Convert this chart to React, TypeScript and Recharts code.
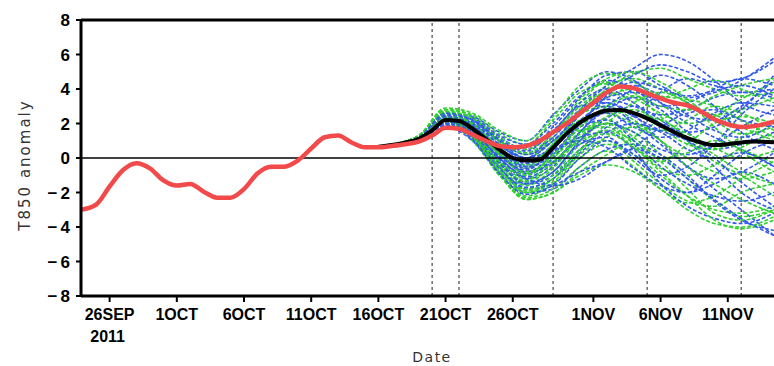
import React from 'react';
import { LineChart, Line, XAxis, YAxis, ReferenceLine } from 'recharts';

// Day index relative to 26 Sep 2011
const OBS_DAYS = [-2.13, -1, 0, 1, 2, 3, 4, 5, 6, 7, 8, 9, 10, 11, 12, 13, 14, 15, 16, 17, 18, 19, 20, 21, 22, 23, 24, 25, 26, 27, 28, 29, 30, 31, 32, 33, 34, 35, 36, 37, 38, 39, 40, 41, 42, 43, 44, 45, 46, 47, 48, 49.44];
const OBS_VALUES = [-3.0, -2.7, -1.65, -0.7, -0.3, -0.6, -1.3, -1.6, -1.5, -1.95, -2.3, -2.3, -1.8, -0.9, -0.5, -0.5, -0.15, 0.55, 1.2, 1.3, 0.9, 0.62, 0.62, 0.7, 0.8, 0.95, 1.3, 1.75, 1.7, 1.35, 1.0, 0.7, 0.63, 0.7, 1.0, 1.5, 2.0, 2.6, 3.2, 3.8, 4.15, 4.05, 3.75, 3.45, 3.2, 3.05, 2.7, 2.25, 1.95, 1.8, 1.85, 2.1];

const MEAN_DAYS = [20, 21, 22, 23, 24, 25, 26, 27, 28, 29, 30, 31, 32, 33, 34, 35, 36, 37, 38, 39, 40, 41, 42, 43, 44, 45, 46, 47, 48, 49.44];
const MEAN_VALUES = [0.65, 0.75, 0.9, 1.1, 1.6, 2.2, 2.15, 1.7, 1.1, 0.5, 0.0, -0.15, -0.1, 0.6, 1.4, 2.05, 2.5, 2.75, 2.78, 2.6, 2.3, 1.9, 1.5, 1.15, 0.9, 0.75, 0.8, 0.9, 0.95, 0.92];

const MEMBER_DAYS = [20.5, 23, 25, 27, 29, 31, 33, 35, 37, 39, 41, 43, 45, 47, 49.44];

const BLUE_MEMBERS = [
  [0.7, 1.2, 2.5, 2.2, 1.2, 0.5, 1.8, 3.5, 4.8, 5.0, 4.2, 3.5, 3.8, 4.5, 5.8],
  [0.7, 1.1, 2.2, 1.8, 0.3, -0.8, 0.2, 2.0, 3.2, 2.5, 1.0, -0.5, -1.8, -3.0, -4.5],
  [0.7, 1.0, 2.0, 1.5, 0.0, -1.2, -0.5, 1.5, 2.8, 3.5, 2.8, 1.5, 0.5, 0.8, 1.5],
  [0.7, 1.2, 2.6, 2.4, 1.5, 1.0, 2.5, 4.0, 5.0, 4.5, 3.2, 2.0, 1.2, 0.5, -0.5],
  [0.7, 1.0, 1.8, 1.0, -0.8, -1.5, -1.0, 0.5, 1.8, 2.5, 3.8, 4.6, 4.2, 3.8, 4.0],
  [0.7, 1.1, 2.3, 2.0, 0.8, -0.2, 0.8, 2.8, 4.2, 5.2, 6.0, 5.6, 4.5, 3.2, 2.5],
  [0.7, 1.0, 2.0, 1.3, -0.5, -2.0, -1.8, -0.5, 0.5, 0.8, 0.2, -1.0, -2.5, -3.6, -4.2],
  [0.7, 1.2, 2.4, 2.0, 1.0, 0.3, 1.2, 2.8, 3.4, 3.0, 2.5, 2.8, 3.5, 3.8, 3.5],
  [0.7, 1.1, 2.1, 1.6, 0.2, -0.9, -0.2, 1.2, 2.0, 1.5, 0.5, 0.2, 0.8, 1.8, 2.8],
  [0.7, 1.0, 1.9, 1.2, -0.5, -1.8, -1.5, 0.0, 1.0, 0.2, -1.2, -2.0, -1.5, -0.8, -1.5],
  [0.7, 1.2, 2.5, 2.3, 1.3, 0.8, 2.0, 3.6, 4.5, 4.0, 3.0, 3.2, 4.0, 4.6, 4.2],
  [0.7, 1.1, 2.2, 1.7, 0.5, -0.4, 0.5, 2.2, 3.0, 2.0, 0.8, -0.5, -1.2, -0.8, 0.3],
  [0.7, 1.0, 2.0, 1.4, -0.2, -1.4, -0.8, 1.0, 2.3, 3.0, 2.2, 1.0, -0.5, -2.0, -3.0],
  [0.7, 1.2, 2.3, 1.9, 0.6, -0.3, 0.6, 2.5, 3.8, 4.2, 3.6, 2.5, 1.6, 1.2, 2.0],
  [0.7, 1.1, 2.1, 1.5, 0.0, -1.0, 0.0, 1.8, 2.6, 1.8, 1.2, 1.6, 2.6, 3.2, 3.0],
  [0.7, 1.1, 2.4, 2.1, 1.0, 0.0, 0.5, 1.2, 1.5, 0.5, -1.5, -2.8, -3.5, -3.8, -3.2],
  [0.7, 1.2, 2.2, 1.8, 0.7, 0.0, 1.5, 3.2, 4.0, 3.2, 2.0, 1.5, 1.8, 2.8, 4.8],
  [0.7, 1.0, 2.0, 1.5, -0.1, -1.1, -0.3, 1.5, 3.0, 4.0, 4.8, 4.2, 3.0, 1.5, 0.5],
  [0.7, 1.1, 2.3, 1.9, 0.6, -0.5, 0.2, 1.8, 2.2, 1.0, -0.5, -1.5, -2.2, -2.5, -2.0],
  [0.7, 1.2, 2.6, 2.2, 1.0, 0.2, 1.0, 2.5, 3.5, 3.8, 3.2, 2.4, 2.2, 3.0, 4.5],
  [0.7, 1.0, 1.9, 1.2, -0.6, -1.7, -1.2, 0.3, 1.5, 2.0, 1.5, 0.5, 0.0, 0.3, -0.5],
  [0.7, 1.1, 2.2, 1.7, 0.4, -0.6, 0.3, 2.0, 3.6, 4.4, 4.0, 3.6, 3.9, 4.2, 3.6],
  [0.7, 1.1, 2.2, 1.6, 0.0, -1.2, -1.6, -1.2, -0.2, 0.5, 0.0, -1.2, -2.4, -3.5, -4.5],
  [0.7, 1.0, 2.0, 1.4, -0.3, -1.5, -0.8, 0.8, 1.2, 0.0, -1.0, -0.5, 0.8, 2.5, 4.0],
  [0.7, 1.2, 2.4, 2.0, 0.8, 0.0, 1.0, 2.6, 3.8, 4.8, 5.4, 5.0, 4.4, 4.6, 5.6],
  [0.7, 1.1, 2.1, 1.5, 0.1, -0.7, 0.4, 1.0, 0.6, -0.6, -1.6, -2.0, -1.0, 0.2, 1.0],
  [0.7, 1.2, 2.5, 2.2, 1.1, 0.4, 1.6, 3.0, 3.2, 2.4, 1.6, 1.0, 0.0, -1.4, -2.8],
  [0.7, 1.0, 1.9, 1.1, -0.9, -2.1, -1.6, -0.8, -0.2, 0.6, 1.8, 2.6, 2.8, 2.2, 1.8],
];

const GREEN_MEMBERS = [
  [0.7, 1.3, 2.8, 2.4, 1.2, 0.5, 1.5, 3.0, 4.2, 4.6, 4.0, 3.2, 2.5, 2.8, 3.5],
  [0.7, 1.2, 2.3, 1.4, -0.8, -2.2, -1.5, 0.0, 0.8, 0.2, -1.0, -2.2, -3.0, -3.2, -2.8],
  [0.7, 1.1, 2.0, 1.0, -1.0, -2.4, -2.0, -0.8, 0.2, 1.2, 2.2, 2.8, 2.5, 1.8, 1.0],
  [0.7, 1.3, 2.7, 2.3, 1.0, 0.2, 1.2, 3.2, 4.4, 3.8, 2.4, 1.2, 0.2, -0.8, -1.5],
  [0.7, 1.2, 2.4, 1.6, -0.3, -1.5, -0.8, 1.0, 2.0, 1.5, 0.2, -1.2, -2.5, -3.4, -3.0],
  [0.7, 1.1, 2.2, 1.5, -0.2, -1.2, 0.0, 2.0, 3.5, 4.0, 3.5, 4.0, 4.5, 4.0, 3.2],
  [0.7, 1.3, 2.6, 2.0, 0.5, -0.5, 0.8, 2.5, 3.0, 2.2, 1.0, 0.0, -0.8, -1.2, -0.8],
  [0.7, 1.2, 2.3, 1.2, -1.0, -2.0, -1.2, 0.5, 1.0, -0.2, -1.5, -2.5, -2.8, -2.0, -1.5],
  [0.7, 1.1, 2.1, 1.6, 0.2, -0.6, 0.6, 2.6, 4.0, 4.9, 5.2, 4.6, 4.0, 3.6, 3.8],
  [0.7, 1.3, 2.8, 2.5, 1.4, 0.8, 2.2, 3.8, 4.3, 3.5, 2.6, 2.0, 2.4, 3.4, 4.4],
  [0.7, 1.2, 2.2, 1.3, -0.6, -1.8, -1.0, 0.8, 1.6, 1.0, 0.0, 0.3, 1.0, 0.5, -0.3],
  [0.7, 1.1, 2.0, 1.1, -0.9, -2.3, -1.8, -0.5, 0.4, -0.5, -1.8, -2.6, -2.2, -1.2, -0.2],
  [0.7, 1.2, 2.5, 1.9, 0.4, -0.4, 0.8, 2.8, 3.8, 3.2, 1.8, 0.8, 0.5, 1.2, 2.2],
  [0.7, 1.3, 2.6, 2.2, 0.9, 0.0, 1.0, 2.2, 2.6, 2.0, 1.6, 2.2, 3.0, 2.6, 1.6],
  [0.7, 1.1, 2.2, 1.4, -0.5, -1.6, -0.6, 1.2, 2.4, 2.8, 2.0, 1.0, -0.2, -1.0, -2.2],
  [0.7, 1.2, 2.4, 1.8, 0.3, -0.8, 0.0, 1.5, 2.2, 1.2, -0.2, -1.8, -3.2, -3.6, -3.0],
  [0.7, 1.3, 2.9, 2.6, 1.6, 1.0, 2.4, 4.2, 4.9, 4.4, 3.6, 3.4, 3.0, 2.2, 1.2],
  [0.7, 1.1, 2.1, 1.2, -0.8, -2.0, -1.4, 0.2, 1.2, 1.8, 1.0, -0.5, -1.5, -2.4, -3.2],
  [0.7, 1.2, 2.3, 1.7, 0.2, -0.9, 0.2, 1.8, 3.0, 3.6, 3.0, 2.8, 3.6, 4.2, 4.6],
  [0.7, 1.2, 2.4, 1.5, -0.4, -1.4, -0.4, 1.4, 2.0, 0.8, -0.6, -1.0, -0.4, 0.6, 1.4],
  [0.7, 1.2, 2.3, 1.3, -0.9, -2.4, -2.0, -1.0, -0.4, -0.8, -1.8, -3.0, -3.8, -4.0, -3.4],
  [0.7, 1.1, 2.1, 1.4, -0.4, -1.3, -0.2, 1.0, 1.4, 0.6, -0.8, -2.2, -3.6, -4.1, -3.6],
  [0.7, 1.3, 2.7, 2.3, 1.0, 0.3, 1.4, 3.4, 4.6, 5.0, 4.4, 3.4, 2.2, 1.4, 1.8],
  [0.7, 1.2, 2.4, 1.6, -0.2, -1.0, 0.2, 1.6, 1.8, 0.6, -0.2, 0.8, 2.0, 2.4, 2.0],
  [0.7, 1.1, 2.2, 1.2, -0.7, -1.9, -1.2, 0.4, 2.0, 3.2, 3.8, 3.2, 1.8, 0.4, -0.8],
  [0.7, 1.2, 2.5, 2.0, 0.6, -0.2, 0.6, 2.0, 2.8, 2.6, 2.2, 1.4, 0.6, 0.0, 0.4],
];

const X_TICKS = [0, 5, 10, 15, 20, 25, 30, 36, 41, 46];
const X_TICK_LABELS = ['26SEP', '1OCT', '6OCT', '11OCT', '16OCT', '21OCT', '26OCT', '1NOV', '6NOV', '11NOV'];
const X_SUBLABEL = '2011';
const Y_TICKS = [-8, -6, -4, -2, 0, 2, 4, 6, 8];
const VERTICAL_MARKS = [24, 26, 33, 40, 47];

const toPoints = (days: number[], vals: number[]) => days.map((d, i) => ({ day: d, v: vals[i] }));

const obsData = toPoints(OBS_DAYS, OBS_VALUES);
const meanData = toPoints(MEAN_DAYS, MEAN_VALUES);
const blueData = BLUE_MEMBERS.map((m) => toPoints(MEMBER_DAYS, m));
const greenData = GREEN_MEMBERS.map((m) => toPoints(MEMBER_DAYS, m));

const TICK_FONT = "'Liberation Sans', Arial, sans-serif";

const XTick = (props: any) => {
  const { x, y, payload } = props;
  const idx = X_TICKS.indexOf(payload.value);
  return (
    <g>
      <text x={x} y={y + 16} textAnchor="middle" fontFamily={TICK_FONT} fontWeight="bold" fontSize={16} fill="#000">
        {X_TICK_LABELS[idx]}
      </text>
      {idx === 0 && (
        <text x={x - 2} y={y + 38} textAnchor="middle" fontFamily={TICK_FONT} fontWeight="bold" fontSize={16} fill="#000">
          {X_SUBLABEL}
        </text>
      )}
    </g>
  );
};

const YTick = (props: any) => {
  const { x, y, payload } = props;
  const v = payload.value;
  if (v < 0) {
    return (
      <text x={x + 3} y={y + 6} textAnchor="end" fontFamily={TICK_FONT} fontWeight="bold" fontSize={17} letterSpacing={3} fill="#000">
        {'\u2212' + Math.abs(v)}
      </text>
    );
  }
  return (
    <text x={x} y={y + 6} textAnchor="end" fontFamily={TICK_FONT} fontWeight="bold" fontSize={17} fill="#000">
      {String(v)}
    </text>
  );
};

export default function App() {
  return (
    <div style={{ position: 'absolute', left: 0, top: 0, width: 774, height: 366, background: '#fff', overflow: 'hidden' }}>
      <LineChart width={774} height={366} margin={{ top: 20, right: 0, bottom: 0, left: 0 }}>
        <XAxis
          dataKey="day"
          type="number"
          domain={[-2.13, 49.44]}
          allowDataOverflow
          ticks={X_TICKS}
          tick={<XTick />}
          tickSize={6}
          tickLine={{ stroke: '#000', strokeWidth: 2 }}
          axisLine={{ stroke: '#000', strokeWidth: 3 }}
          height={70}
          interval={0}
          label={{
            content: () => (
              <text x={432} y={362} textAnchor="middle" fontFamily="'DejaVu Sans', sans-serif" fontSize={14} letterSpacing={1.5} fill="#333">
                Date
              </text>
            ),
          }}
        />
        <YAxis
          type="number"
          domain={[-8, 8]}
          ticks={Y_TICKS}
          width={81}
          tick={<YTick />}
          tickSize={5}
          tickMargin={6}
          tickLine={{ stroke: '#000', strokeWidth: 2 }}
          axisLine={{ stroke: '#000', strokeWidth: 3 }}
          interval={0}
          label={{
            content: () => (
              <text
                x={25}
                y={165}
                transform="rotate(-90, 25, 165)"
                textAnchor="middle"
                dominantBaseline="central"
                fontFamily="'DejaVu Sans', sans-serif"
                fontSize={15}
                letterSpacing={2}
                fill="#333"
              >
                T850  anomaly
              </text>
            ),
          }}
        />
        <ReferenceLine y={8} stroke="#000" strokeWidth={3} />
        {VERTICAL_MARKS.map((d) => (
          <ReferenceLine key={'v' + d} x={d} stroke="#555" strokeWidth={1.3} strokeDasharray="3 3" />
        ))}
        {blueData.map((data, i) => (
          <React.Fragment key={'m' + i}>
            <Line
              data={data}
              dataKey="v"
              type="monotone"
              stroke="#3358ef"
              strokeWidth={1.6}
              strokeDasharray="4 2"
              dot={false}
              activeDot={false}
              isAnimationActive={false}
            />
            {greenData[i] && (
              <Line
                data={greenData[i]}
                dataKey="v"
                type="monotone"
                stroke="#2fd02f"
                strokeWidth={1.6}
                strokeDasharray="4 2"
                dot={false}
                activeDot={false}
                isAnimationActive={false}
              />
            )}
          </React.Fragment>
        ))}
        <ReferenceLine y={0} stroke="#000" strokeWidth={1.5} />
        <Line data={meanData} dataKey="v" type="monotone" stroke="#000" strokeWidth={4} dot={false} activeDot={false} isAnimationActive={false} />
        <Line data={obsData} dataKey="v" type="monotone" stroke="#f24a4a" strokeWidth={4.5} dot={false} activeDot={false} isAnimationActive={false} />
      </LineChart>
    </div>
  );
}
